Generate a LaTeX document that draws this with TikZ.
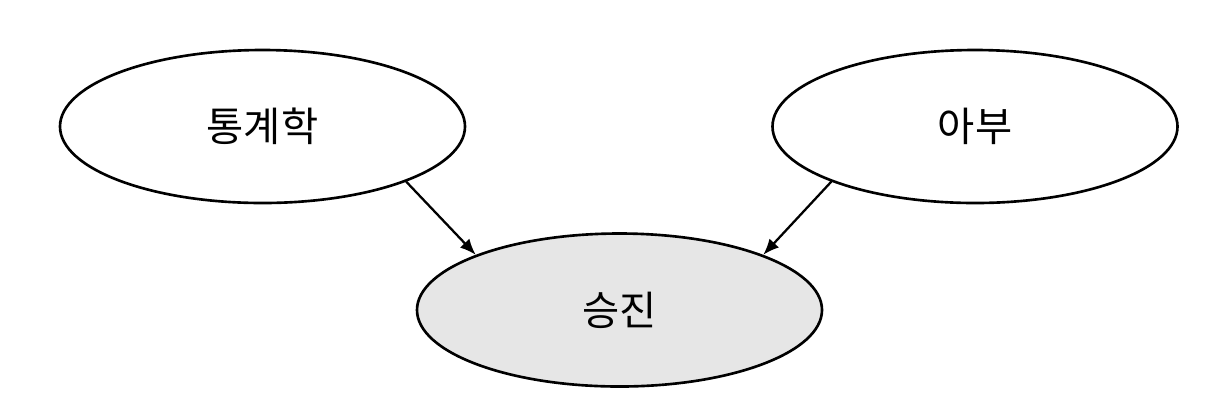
\documentclass[tikz,border=0pt]{standalone}
\usepackage{fontspec}
\usepackage{xcolor}
\usepackage{tikz}
\usetikzlibrary{arrows.meta, shapes.geometric}
\newfontfamily\krfont{Noto Sans CJK KR}
\definecolor{promogray}{RGB}{230,230,230}

\begin{document}
\begin{tikzpicture}[
        every node/.style={font=\krfont\fontsize{23}{27}\selectfont},
        var/.style={ellipse, draw, line width=1.5pt, inner sep=0pt,
            minimum width=8.1cm, minimum height=3.06cm},
        link/.style={-{Latex[length=0.32cm, width=0.26cm]}, line width=1.3pt}]
            \useasboundingbox (0,0) rectangle (24.52,-8.36);
            \node[var, fill=white] (stat) at (5.25,-2.53) {통계학};
            \node[var, fill=white] (abu) at (19.5,-2.53) {아부};
            \node[var, fill=promogray] (promo) at (12.39,-6.2) {승진};
            \draw[link] (stat.-21) -- (promo.159);
            \draw[link] (abu.-159) -- (promo.21);
        \end{tikzpicture}
\end{document}
